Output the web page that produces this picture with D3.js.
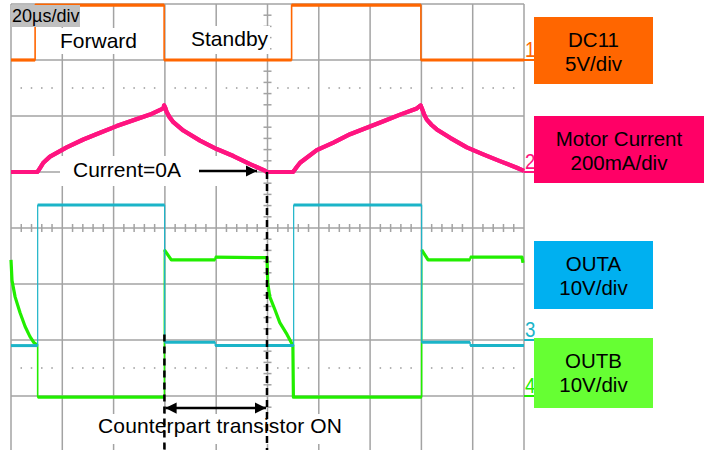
<!DOCTYPE html>
<html lang="en">
<head>
  <meta charset="utf-8" />
  <title>Scope capture</title>
  <script src="https://unpkg.com/d3@7.9.0/dist/d3.min.js"></script>
  <style>
    html,body{margin:0;padding:0;background:#fff;}
    svg{display:block;font-family:"Liberation Sans",Arial,sans-serif;}
  </style>
</head>
<body>
<svg id="svg" width="713" height="450"></svg>
<script>
// ----- data: [time µs, value] -----
const dc11 = [[0,0],[9.4,0],[9.4,4.9],[59.7,4.9],[59.7,0],[109.4,0],[109.4,4.9],[159.8,4.9],[159.8,0],[200,0]];
const motorCurrent = [
  [0,0],[10.2,0],[10.6,4],[11.6,18],[12.6,33],[15.2,55],[21.7,88],[28.2,116],[34.7,140],[41.2,164],[47.7,185],[54.2,205],[59.4,227],[59.7,238],
  [60.2,228],[60.7,214],[61.8,196],[63.3,178],[67.2,148],[73.7,112],[80.2,82],[86.7,57],[93.2,28],[99.0,5],[99.7,0],
  [109.9,0],[110.3,4],[111.4,18],[112.7,33],[119.2,78],[125.7,105],[132.2,135],[138.7,158],[145.2,181],[151.7,205],[158.2,227],[159.7,238],
  [160.4,222],[161.2,203],[162.1,187],[164.0,168],[166.0,152],[171.2,122],[177.7,88],[184.1,63],[190.6,39],[197.2,15],[200,4]
];
const outA = [[0,-1.0],[10.4,-1.0],[10.4,24.1],[59.9,24.1],[59.9,-0.4],[79.6,-0.4],[79.6,-1.0],[110.2,-1.0],[110.2,24.1],[160.1,24.1],[160.1,-0.4],[179,-0.4],[179,-1.0],[200,-1.0]];
const outB = [
  [0,24.3],[0.4,20.6],[1.6,17.7],[3.5,14.9],[5.5,12.4],[7.4,10.6],[9.0,9.5],[10.4,9.0],[10.4,-0.2],
  [59.8,-0.2],[59.8,26.1],[62.5,24.3],[79.6,24.3],[79.6,24.8],[99.8,24.7],
  [100.1,20.2],[100.9,17.7],[102.9,15.4],[104.8,13.1],[107.6,11.0],[109.9,9.0],[110.1,-0.2],
  [160.1,-0.2],[160.1,26.1],[162.6,24.3],[179,24.3],[179,24.8],[199.2,24.8],[199.6,23.8]
];
// channel: offset in divisions, units per division
const channels = [
  {id:'1', name:'DC11',          scale:'5V/div',    offset:3,  perDiv:5,   color:'#ff6600', box:'#ff6600', data:dc11,         w:3.2, edge:1.6},
  {id:'2', name:'Motor Current', scale:'200mA/div', offset:1,  perDiv:200, color:'#ff1480', box:'#ff0066', data:motorCurrent, w:4.2, edge:4.2},
  {id:'3', name:'OUTA',          scale:'10V/div',   offset:-2, perDiv:10,  color:'#1bb4c8', box:'#00b0f0', data:outA,         w:3.0, edge:1.2},
  {id:'4', name:'OUTB',          scale:'10V/div',   offset:-3, perDiv:10,  color:'#22ee00', box:'#66ff33', data:outB,         w:3.2, edge:1.6}
];
const timebase = '20µs/div';
const zeroCrossT = 99.8;  // current reaches 0A
const oppOnT = 59.8;      // counterpart transistor turns on

const svg = d3.select('#svg');
const x = d3.scaleLinear().domain([0,200]).range([11,524]);
const y = d3.scaleLinear().domain([-4,4]).range([452,4]);
const grid = '#a3a3a3';

// ----- grid -----
const g = svg.append('g');
g.selectAll('line.v').data(d3.range(0,11)).enter().append('line')
  .attr('x1',d=>x(d*20)).attr('x2',d=>x(d*20)).attr('y1',y(4)).attr('y2',y(-4))
  .attr('stroke',grid).attr('stroke-width',1.5);
g.selectAll('line.h').data(d3.range(-4,5)).enter().append('line')
  .attr('x1',x(0)).attr('x2',x(200)).attr('y1',d=>y(d)).attr('y2',d=>y(d))
  .attr('stroke',grid).attr('stroke-width',1.5);
// centre axis minor ticks
const minor = d3.range(0,51).filter(i=>i%5);
g.selectAll('line.tx').data(minor).enter().append('line')
  .attr('x1',i=>x(i*4)).attr('x2',i=>x(i*4)).attr('y1',y(0)-4).attr('y2',y(0)+4)
  .attr('stroke',grid).attr('stroke-width',1.5);
g.selectAll('line.ty').data(d3.range(-20,21).filter(i=>i%5)).enter().append('line')
  .attr('x1',x(100)-4).attr('x2',x(100)+4).attr('y1',i=>y(i/5)).attr('y2',i=>y(i/5))
  .attr('stroke',grid).attr('stroke-width',1.5);
// dotted lines
[2.5,-2.5].forEach(lv=>{
  g.selectAll(null).data(minor).enter().append('rect')
    .attr('x',i=>x(i*4)-0.75).attr('y',y(lv)-0.75).attr('width',1.5).attr('height',1.5).attr('fill','#999');
});

// ----- text backgrounds (covering grid) -----
const bg = svg.append('g').attr('fill','#fff');
bg.append('rect').attr('x',58).attr('y',28).attr('width',84).attr('height',26);
bg.append('rect').attr('x',188).attr('y',26).attr('width',82).attr('height',28);
bg.append('rect').attr('x',60).attr('y',156).attr('width',196).attr('height',30);
bg.append('rect').attr('x',96).attr('y',414).attr('width',250).attr('height',30);

// ----- traces: thin full path, thick level segments on top -----
const line = ch => d3.line().x(d=>x(d[0])).y(d=>y(ch.offset + d[1]/ch.perDiv));
const levels = data => {
  // split into runs without vertical edges
  const runs = []; let cur = [data[0]];
  for (let i=1;i<data.length;i++){
    if (data[i][0]===data[i-1][0]) { runs.push(cur); cur=[data[i]]; }
    else cur.push(data[i]);
  }
  runs.push(cur);
  return runs.filter(r=>r.length>1);
};
const tr = svg.append('g');
[channels[0],channels[1],channels[3],channels[2]].forEach(ch=>{
  tr.append('path').attr('d',line(ch)(ch.data)).attr('fill','none')
    .attr('stroke',ch.color).attr('stroke-width',ch.edge).attr('stroke-linejoin','round');
  tr.selectAll(null).data(levels(ch.data)).enter().append('path')
    .attr('d',r=>line(ch)(r)).attr('fill','none')
    .attr('stroke',ch.color).attr('stroke-width',ch.w).attr('stroke-linejoin','round');
});

// ----- channel markers -----
const mk = svg.append('g');
channels.forEach(ch=>{
  const yy = y(ch.offset);
  mk.append('line').attr('x1',524).attr('x2',534).attr('y1',yy).attr('y2',yy).attr('stroke',ch.color).attr('stroke-width',2);
  mk.append('text').attr('x',525).attr('y',yy-3).attr('font-size',22).attr('fill',ch.color)
    .attr('transform',`translate(525,0) scale(0.85,1) translate(-525,0)`).text(ch.id);
});

// ----- legend boxes -----
const boxes = [{y:17,w:119,h:67},{y:116,w:170,h:67},{y:241,w:119,h:68},{y:338,w:119,h:70}];
const lg = svg.append('g');
channels.forEach((ch,i)=>{
  const b = boxes[i];
  lg.append('rect').attr('x',534).attr('y',b.y).attr('width',b.w).attr('height',b.h).attr('fill',ch.box);
  const t = lg.append('text').attr('x',534+b.w/2).attr('text-anchor','middle').attr('font-size',20.5).attr('fill','#000');
  t.append('tspan').attr('x',534+b.w/2).attr('y',b.y+30).text(ch.name);
  t.append('tspan').attr('x',534+b.w/2).attr('y',b.y+54).text(ch.scale);
});

// ----- annotations -----
const defs = svg.append('defs');
defs.append('marker').attr('id','ah').attr('viewBox','0 0 10 10').attr('refX',10).attr('refY',5)
  .attr('markerWidth',4.5).attr('markerHeight',4.5).attr('orient','auto-start-reverse')
  .append('path').attr('d','M0,0L10,5L0,10z').attr('fill','#000');

const tx = svg.append('g').attr('font-size',21).attr('fill','#000');
tx.append('text').attr('x',73).attr('y',177).text('Current=0A');
tx.append('text').attr('x',60).attr('y',48).text('Forward');
tx.append('text').attr('x',191).attr('y',46).text('Standby');
tx.append('text').attr('x',98).attr('y',433).attr('textLength',244).text('Counterpart transistor ON');

const an = svg.append('g');
an.append('line').attr('x1',x(oppOnT)).attr('x2',x(oppOnT)).attr('y1',y(-1.9)).attr('y2',450)
  .attr('stroke','#000').attr('stroke-width',2.5).attr('stroke-dasharray','7,5');
an.append('line').attr('x1',x(zeroCrossT)).attr('x2',x(zeroCrossT)).attr('y1',y(1)).attr('y2',450)
  .attr('stroke','#000').attr('stroke-width',2.5).attr('stroke-dasharray','7,5');
an.append('line').attr('x1',x(oppOnT)+1).attr('x2',x(zeroCrossT)-1).attr('y1',408).attr('y2',408)
  .attr('stroke','#000').attr('stroke-width',2.5).attr('marker-start','url(#ah)').attr('marker-end','url(#ah)');
an.append('line').attr('x1',199).attr('x2',x(zeroCrossT)-10).attr('y1',y(1)-1).attr('y2',y(1)-1)
  .attr('stroke','#000').attr('stroke-width',2.5).attr('marker-end','url(#ah)');

// timebase label
svg.append('rect').attr('x',11).attr('y',5).attr('width',69).attr('height',22).attr('fill','#c0c0c0');
svg.append('text').attr('x',12).attr('y',22).attr('font-size',18).attr('fill','#000').text(timebase);
</script>
</body>
</html>
